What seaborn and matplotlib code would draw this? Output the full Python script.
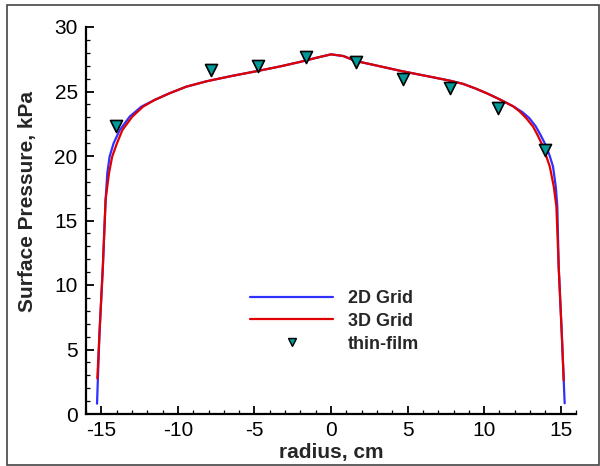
import matplotlib
matplotlib.use("Agg")
import matplotlib.pyplot as plt
import seaborn as sns
import pandas as pd
from matplotlib.lines import Line2D
from matplotlib.patches import Rectangle
from matplotlib.ticker import MultipleLocator

# ---- data ----
grid2d_x = [-15.28, -15.12, -14.9, -14.72, -14.61, -14.46, -14.2, -13.8, -13.15, -12.39,
            -11.53, -10.55, -9.46, -8.1, -6.5, -4.75, -3.3, -2.0, -1.0, 0.0,
            0.8, 1.63, 2.33, 3.4, 4.5, 5.6, 6.67, 7.76, 8.6, 9.4,
            10.2, 11.0, 11.9, 12.5, 12.94, 13.37, 13.7, 14.07, 14.3, 14.5,
            14.68, 14.78, 14.87, 15.07, 15.26]
grid2d_p = [0.8, 6.25, 11.4, 16.6, 18.66, 19.95, 20.98, 22.0, 23.05, 23.82,
            24.34, 24.86, 25.37, 25.8, 26.2, 26.6, 26.95, 27.3, 27.6, 27.88,
            27.75, 27.36, 27.18, 26.9, 26.61, 26.35, 26.1, 25.84, 25.6, 25.25,
            24.85, 24.4, 23.85, 23.4, 22.95, 22.3, 21.6, 20.72, 19.95, 19.17,
            17.62, 16.07, 11.4, 6.25, 0.83]

grid3d_x = [-15.26, -15.12, -14.9, -14.72, -14.5, -14.29, -13.98, -13.63, -12.98, -12.28,
            -11.53, -10.55, -9.46, -8.1, -6.5, -4.75, -3.3, -2.0, -1.0, 0.0,
            0.8, 1.63, 2.33, 3.4, 4.5, 5.6, 6.67, 7.76, 8.6, 9.4,
            10.2, 11.0, 11.9, 12.33, 12.76, 13.2, 13.5, 13.85, 14.29, 14.55,
            14.72, 14.87, 15.07, 15.2]
grid3d_p = [2.76, 6.25, 11.4, 16.6, 18.66, 19.95, 20.98, 22.0, 23.05, 23.82,
            24.34, 24.86, 25.37, 25.8, 26.2, 26.6, 26.95, 27.3, 27.6, 27.88,
            27.75, 27.36, 27.18, 26.9, 26.61, 26.35, 26.1, 25.84, 25.6, 25.25,
            24.85, 24.4, 23.85, 23.44, 22.92, 22.27, 21.6, 20.72, 19.17, 17.62,
            16.07, 11.4, 6.25, 2.6]

film_x = [-14.02, -7.83, -4.75, -1.63, 1.63, 4.72, 7.8, 10.9, 14.0]
film_p = [22.3, 26.67, 26.98, 27.7, 27.26, 26.0, 25.25, 23.7, 20.5]

series_labels = ["2D Grid", "3D Grid", "thin-film"]
x_ticks = [-15, -10, -5, 0, 5, 10, 15]
y_ticks = [0, 5, 10, 15, 20, 25, 30]

# ---- style ----
sns.set_theme(style="ticks")
plt.rcParams["font.family"] = ["Liberation Sans", "DejaVu Sans"]

BLUE = "#3030ff"
RED = "#e00000"
TEAL = "#009a9a"

fig = plt.figure(figsize=(6.0, 4.66), dpi=100)
ax = fig.add_axes([86 / 600, 1 - 414 / 466, 490 / 600, 387 / 466])

df2 = pd.DataFrame({"x": grid2d_x, "p": grid2d_p})
df3 = pd.DataFrame({"x": grid3d_x, "p": grid3d_p})
dff = pd.DataFrame({"x": film_x, "p": film_p})

sns.lineplot(data=df2, x="x", y="p", sort=False, color=BLUE, lw=1.6, ax=ax)
sns.lineplot(data=df3, x="x", y="p", sort=False, color=RED, lw=1.6, ax=ax)
sns.scatterplot(data=dff, x="x", y="p", marker="v", s=75, color=TEAL,
                edgecolor="black", linewidth=1.2, ax=ax, zorder=5)

ax.set_xlim(-16, 16)
ax.set_ylim(0, 30)
ax.set_xticks(x_ticks)
ax.set_yticks(y_ticks)
ax.xaxis.set_minor_locator(MultipleLocator(1))
ax.yaxis.set_minor_locator(MultipleLocator(1))
ax.tick_params(which="major", direction="in", length=6, width=1.3,
               labelsize=15, pad=6, colors="black")
ax.tick_params(axis="x", which="major", pad=5)
ax.tick_params(which="minor", direction="in", length=3, width=0.9, colors="black")
ax.set_xticklabels([str(t) for t in x_ticks])
ax.set_yticklabels([str(t) for t in y_ticks])

for s in ["top", "right"]:
    ax.spines[s].set_visible(False)
for s in ["left", "bottom"]:
    ax.spines[s].set_linewidth(1.6)
    ax.spines[s].set_color("black")

ax.set_xlabel("radius, cm", fontsize=15, fontweight="bold")
ax.set_ylabel("Surface Pressure, kPa", fontsize=15, fontweight="bold")
ax.xaxis.set_label_coords(0.5, -0.074)
ax.yaxis.set_label_coords(-0.099, 0.5486)

handles = [
    Line2D([], [], color=BLUE, lw=1.6),
    Line2D([], [], color=RED, lw=1.6),
    Line2D([], [], marker="v", color="none", markerfacecolor=TEAL,
           markeredgecolor="black", markersize=6, markeredgewidth=1.0),
]
leg = ax.legend(handles, series_labels, loc="upper left",
                bbox_to_anchor=((250 - 86) / 490, (414 - 290) / 387),
                frameon=False, borderpad=0, borderaxespad=0,
                handlelength=4.6, handletextpad=0.8, labelspacing=0.32,
                prop={"weight": "bold", "size": 13})

fig.patches.append(Rectangle((7 / 600, 1.5 / 466), 592 / 600, 460 / 466,
                             transform=fig.transFigure, fill=False,
                             edgecolor="#444444", lw=1.2))

fig.savefig("out.png", dpi=100)
